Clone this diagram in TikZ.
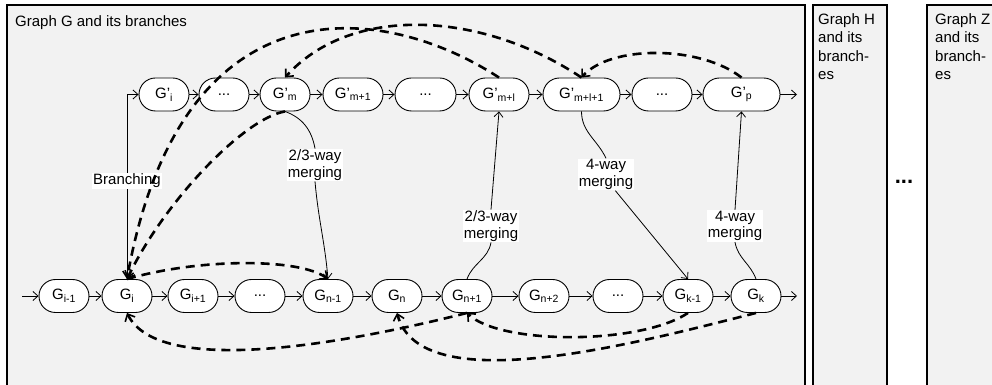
\documentclass[tikz,border=0pt]{standalone}
\usepackage{fontspec}
\setmainfont{Liberation Sans}
\usetikzlibrary{arrows.meta}
\definecolor{panelgray}{RGB}{242,242,242}
\tikzset{
  gnode/.style={draw, fill=white, line width=0.9pt, rounded corners=16.5pt,
    minimum height=33pt, minimum width=50pt, inner sep=1pt},
  flow/.style={line width=0.8pt, -{Straight Barb[length=5pt,width=9pt]}},
  jump/.style={line width=2.6pt, dash pattern=on 9pt off 6pt,
    -{Straight Barb[length=6pt,width=11pt,line width=1.6pt]}},
  mlabel/.style={fill=white, align=center, inner sep=1pt,
    font=\fontsize{15}{16.5}\selectfont},
  panel/.style={draw, line width=2pt, fill=panelgray},
}
\begin{document}
\begin{tikzpicture}[x=1pt, y=1pt, every node/.style={font=\fontsize{15}{17}\selectfont}]
        \useasboundingbox (0,0) rectangle (992,385);
        \clip (0,0) rectangle (992,385);
        %% Panels
        \draw[panel] (7,-20) rectangle (805,380);
        \draw[panel] (813,-20) rectangle (887,380);
        \draw[panel] (927,-20) rectangle (1010,380);
        \node[anchor=base west, inner sep=0pt] (titleg) at (15,358) {Graph G and its branches};
        \node[anchor=north west, align=left, inner sep=0pt, font=\fontsize{15}{18.5}\selectfont]
            (titleh) at (818,372) {Graph H\\and its\\branch-\\es};
        \node[anchor=north west, align=left, inner sep=0pt, font=\fontsize{15}{18.5}\selectfont]
            (titlez) at (935,372) {Graph Z\\and its\\branch-\\es};
        \node[font=\bfseries\fontsize{22}{22}\selectfont] (more) at (904,203) {...};
        %% Main chain
        \node[gnode] (gim1) at (64,89) {G\textsubscript{i-1}};
        \node[gnode] (gi) at (127,89) {G\textsubscript{i}};
        \node[gnode] (gip1) at (193,89) {G\textsubscript{i+1}};
        \node[gnode] (bdots1) at (260,89) {...};
        \node[gnode] (gnm1) at (328,89) {G\textsubscript{n-1}};
        \node[gnode] (gn) at (397,89) {G\textsubscript{n}};
        \node[gnode] (gnp1) at (467,89) {G\textsubscript{n+1}};
        \node[gnode] (gnp2) at (544,89) {G\textsubscript{n+2}};
        \node[gnode] (bdots2) at (618,89) {...};
        \node[gnode] (gkm1) at (688,89) {G\textsubscript{k-1}};
        \node[gnode] (gk) at (756,89) {G\textsubscript{k}};
        \coordinate (gin) at (22,89);
        \coordinate (gout) at (797,89);
        %% Branch chain
        \node[gnode] (tgi) at (164,290.5) {G'\textsubscript{i}};
        \node[gnode] (tdots1) at (224,290.5) {...};
        \node[gnode] (tgm) at (285,290.5) {G'\textsubscript{m}};
        \node[gnode, minimum width=60pt] (tgm1) at (353,290.5) {G'\textsubscript{m+1}};
        \node[gnode, minimum width=61pt] (tdots2) at (425.5,290.5) {...};
        \node[gnode, minimum width=60pt] (tgml) at (499,290.5) {G'\textsubscript{m+l}};
        \node[gnode, minimum width=77pt] (tgml1) at (581.5,290.5) {G'\textsubscript{m+l+1}};
        \node[gnode, minimum width=60pt] (tdots3) at (662,290.5) {...};
        \node[gnode, minimum width=77pt] (tgp) at (741.5,290.5) {G'\textsubscript{p}};
        \coordinate (tout) at (797,290.5);
        \foreach \a/\b in {gin/gim1, gim1/gi, gi/gip1, gip1/bdots1, bdots1/gnm1, gnm1/gn,
                           gn/gnp1, gnp1/gnp2, gnp2/bdots2, bdots2/gkm1, gkm1/gk, gk/gout,
                           tgi/tdots1, tdots1/tgm, tgm/tgm1, tgm1/tdots2, tdots2/tgml,
                           tgml/tgml1, tgml1/tdots3, tdots3/tgp, tgp/tout}
            \draw[flow] (\a) -- (\b);
        %% Branching and merging
        \draw[flow] (gi.north) |- (tgi.west);
        \node[mlabel] (brn) at (127,204) {Branching};
        \node[mlabel] (mrg1) at (315,220) {2/3-way\\merging};
        \node[mlabel] (mrg2) at (491,159) {2/3-way\\merging};
        \node[mlabel] (mrg3) at (606,210.5) {4-way\\merging};
        \node[mlabel] (mrg4) at (735,159) {4-way\\merging};
        \draw[line width=0.8pt] (tgm.south) to[out=-20,in=100] (mrg1.north);
        \draw[flow] (mrg1.south) to[out=-85,in=95] (gnm1.north);
        \draw[line width=0.8pt] (gnp1.north) to[out=70,in=-100] (mrg2.south);
        \draw[flow] (mrg2.north) -- (tgml.south);
        \draw[line width=0.8pt] (tgml1.south) to[out=-90,in=115] (mrg3.north);
        \draw[flow] (mrg3.-60) -- (gkm1.north);
        \draw[line width=0.8pt] (gk.north) to[out=110,in=-80] (mrg4.south);
        \draw[flow] (mrg4.north) -- (tgp.south);
        %% Jumps
        \draw[jump] (tgml1.north) .. controls (480,375) and (350,380) .. (tgm.north);
        \draw[jump] (tgml.north) .. controls (380,385) and (180,405) .. (gi.north);
        \draw[jump] (tgp.north) .. controls (700,340) and (610,340) .. (tgml1.north);
        \draw[jump] (tgm.south) .. controls (245,267) and (165,185) .. (gi.north);
        \draw[jump] (gi.north) .. controls (200,127) and (300,127) .. (gnm1.north);
        \draw[jump] (gnp1.south) .. controls (360,45) and (160,5) .. (gi.south);
        \draw[jump] (gkm1.south) .. controls (640,40) and (500,40) .. (gnp1.south);
        \draw[jump] (gk.south) .. controls (630,40) and (420,-15) .. (gn.south);
    \end{tikzpicture}
\end{document}
